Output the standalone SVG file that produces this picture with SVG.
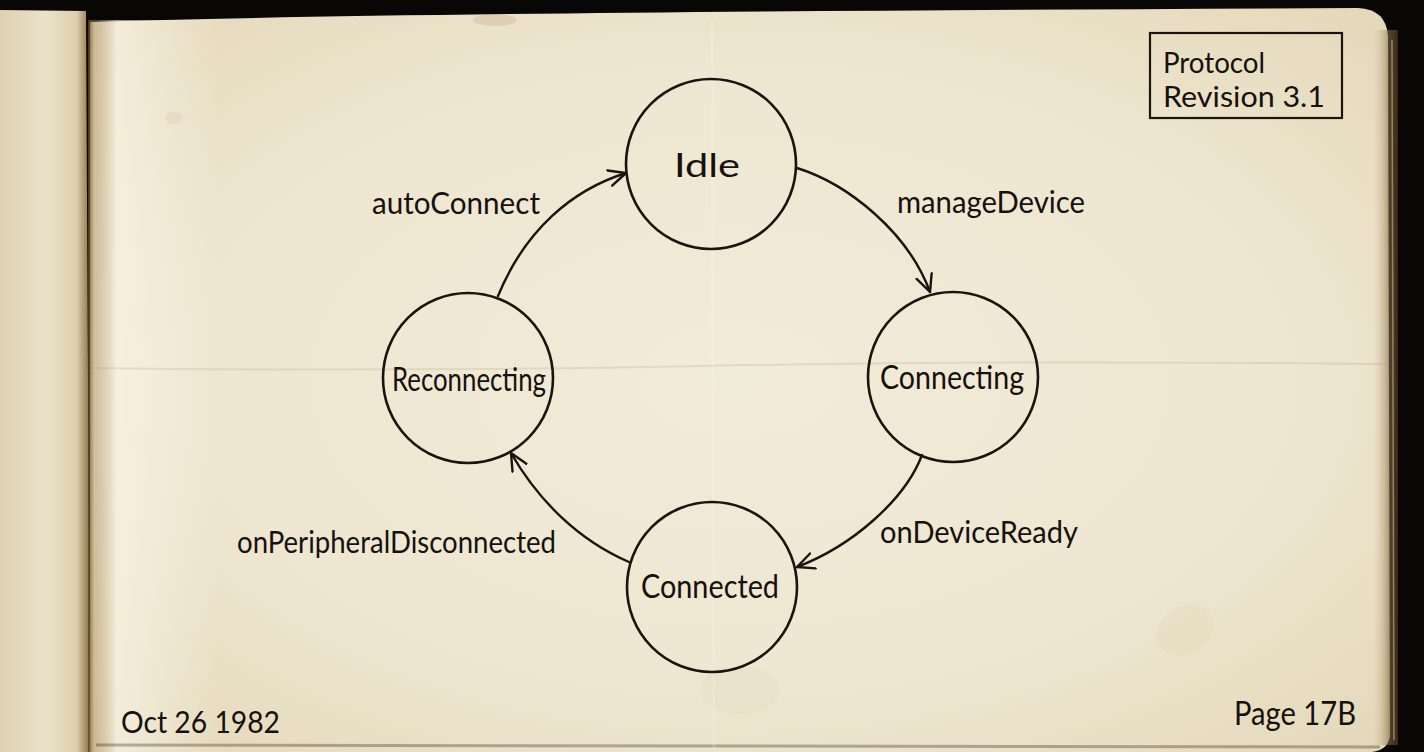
<svg xmlns="http://www.w3.org/2000/svg" width="1424" height="752" viewBox="0 0 1424 752">
  <defs>
    <linearGradient id="leftPage" x1="0" y1="0" x2="1" y2="0">
      <stop offset="0" stop-color="#ddd1b2"/>
      <stop offset="0.5" stop-color="#ebe2c9"/>
      <stop offset="0.85" stop-color="#ddcfad"/>
      <stop offset="1" stop-color="#8a6f45"/>
    </linearGradient>
    <radialGradient id="rightPage" cx="0.5" cy="0.5" r="0.7">
      <stop offset="0" stop-color="#f1ebd9"/>
      <stop offset="0.6" stop-color="#eee6d0"/>
      <stop offset="1" stop-color="#e4d8b9"/>
    </radialGradient>
    <linearGradient id="gutter" x1="0" y1="0" x2="1" y2="0">
      <stop offset="0" stop-color="#5a4122" stop-opacity="0.85"/>
      <stop offset="0.05" stop-color="#a88c5c" stop-opacity="0.4"/>
      <stop offset="0.22" stop-color="#fcf8ec" stop-opacity="0.6"/>
      <stop offset="1" stop-color="#fcf8ec" stop-opacity="0"/>
    </linearGradient>
    <linearGradient id="rightEdge" x1="0" y1="0" x2="1" y2="0">
      <stop offset="0" stop-color="#d8c8a0" stop-opacity="0"/>
      <stop offset="0.5" stop-color="#9c8458" stop-opacity="0.45"/>
      <stop offset="1" stop-color="#3a2a16" stop-opacity="0.9"/>
    </linearGradient>
    <marker id="arrow" viewBox="0 0 20 20" refX="18" refY="10" markerWidth="20" markerHeight="20" markerUnits="userSpaceOnUse" orient="auto">
      <path d="M1,2 L18,10 L1,18" fill="none" stroke="#1a1410" stroke-width="2.4" stroke-linecap="round" stroke-linejoin="round"/>
    </marker>
    <style>
      .node { fill: none; stroke: #1a1410; stroke-width: 2.6; }
      .edge { fill: none; stroke: #1a1410; stroke-width: 2.4; stroke-linecap: round; marker-end: url(#arrow); }
      .hand { font-family: Lato, "Open Sans", "Noto Sans", sans-serif; fill: #15110d; }
      .label { font-size: 31px; }
      .state { font-size: 32px; text-anchor: middle; }
      .fold { fill: none; stroke: #b09a6e; stroke-opacity: 0.22; stroke-width: 2; }
      .stain { fill: #b89d6a; }
    </style>
  </defs>

  <!-- background and notebook -->
  <rect x="0" y="0" width="1424" height="752" fill="#090705"/>
  <path d="M0,10 L86,11 L90,752 L0,752 Z" fill="url(#leftPage)"/>
  <path d="M90,22 Q400,12 1358,8 Q1386,9 1388,36 L1390,736 Q1388,750 1372,752 L90,752 Z" fill="url(#rightPage)"/>
  <rect x="88" y="20" width="130" height="732" fill="url(#gutter)"/>
  <rect x="1372" y="30" width="26" height="715" fill="url(#rightEdge)"/>
  <path d="M1392,40 L1394,740" stroke="#c8b48a" stroke-opacity="0.6" stroke-width="1.5" fill="none"/>
  <path d="M96,745 L1380,747" stroke="#1a140c" stroke-opacity="0.3" stroke-width="3" fill="none"/>
  <!-- folds and stains -->
  <path class="fold" d="M92,368 Q400,372 700,366 T1388,364"/>
  <path d="M712,20 L714,750" stroke="#fffaf0" stroke-opacity="0.2" stroke-width="3" fill="none"/>
  <ellipse class="stain" cx="495" cy="20" rx="22" ry="6" opacity="0.25"/>
  <ellipse class="stain" cx="174" cy="118" rx="9" ry="6" opacity="0.12"/>
  <ellipse class="stain" cx="1185" cy="630" rx="30" ry="24" opacity="0.05" transform="rotate(-30 1185 630)"/>
  <ellipse class="stain" cx="740" cy="690" rx="40" ry="24" opacity="0.05"/>

  <!-- connectors -->
  <g id="connectors">
    <path class="edge" d="M797,168 C848,184 908,232 930,292"/>
    <path class="edge" d="M922,455 C905,500 852,546 797,567"/>
    <path class="edge" d="M629,562 C578,540 538,500 511,453"/>
    <path class="edge" d="M498,296 C525,230 572,190 626,173"/>
    <text class="hand label" x="897" y="213" textLength="188" lengthAdjust="spacingAndGlyphs">manageDevice</text>
    <text class="hand label" x="880" y="543" textLength="198" lengthAdjust="spacingAndGlyphs">onDeviceReady</text>
    <text class="hand label" x="237" y="553" textLength="319" lengthAdjust="spacingAndGlyphs">onPeripheralDisconnected</text>
    <text class="hand label" x="372" y="214" textLength="168" lengthAdjust="spacingAndGlyphs">autoConnect</text>
  </g>

  <!-- nodes -->
  <g id="node-idle">
    <circle class="node" cx="711" cy="164" r="85"/>
    <text class="hand state" x="707" y="177" font-size="38" textLength="66" lengthAdjust="spacingAndGlyphs">Idle</text>
  </g>
  <g id="node-connecting">
    <circle class="node" cx="953" cy="377" r="85"/>
    <text class="hand state" x="952" y="389" textLength="144" lengthAdjust="spacingAndGlyphs">Connecting</text>
  </g>
  <g id="node-connected">
    <circle class="node" cx="712" cy="587" r="85"/>
    <text class="hand state" x="710" y="598" textLength="138" lengthAdjust="spacingAndGlyphs">Connected</text>
  </g>
  <g id="node-reconnecting">
    <circle class="node" cx="468" cy="378" r="85"/>
    <text class="hand state" x="469" y="391" textLength="154" lengthAdjust="spacingAndGlyphs">Reconnecting</text>
  </g>

  <!-- annotations -->
  <g id="revision-box">
    <rect x="1150" y="33" width="192" height="85" fill="none" stroke="#1a1410" stroke-width="2.2"/>
    <text class="hand" x="1163" y="73" font-size="28" textLength="102" lengthAdjust="spacingAndGlyphs">Protocol</text>
    <text class="hand" x="1163" y="107" font-size="28" textLength="162" lengthAdjust="spacingAndGlyphs">Revision 3.1</text>
  </g>
  <g id="date">
    <text class="hand" x="121" y="733" font-size="31" textLength="159" lengthAdjust="spacingAndGlyphs">Oct 26 1982</text>
  </g>
  <g id="page-number">
    <text class="hand" x="1234" y="725" font-size="33" textLength="122" lengthAdjust="spacingAndGlyphs">Page 17B</text>
  </g>
</svg>
